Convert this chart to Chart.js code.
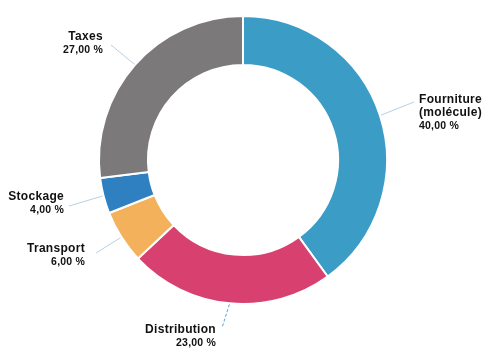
<!DOCTYPE html>
<html>
<head>
<meta charset="utf-8">
<script src="https://cdn.jsdelivr.net/npm/chart.js@4"></script>
<style>
  html, body { margin: 0; padding: 0; background: #ffffff; }
  #wrap { width: 482px; height: 349px; }
</style>
</head>
<body>
<div id="wrap"><canvas id="c" width="482" height="349"></canvas></div>
<script>
// Répartition du prix du gaz
const categories = ['Fourniture\n(molécule)', 'Distribution', 'Transport', 'Stockage', 'Taxes'];
const values = [40, 23, 6, 4, 27];
const valueLabels = ['40,00 %', '23,00 %', '6,00 %', '4,00 %', '27,00 %'];
const colors = ['#3b9cc6', '#d8416f', '#f4b15c', '#2f80c1', '#7b797a'];

// label anchor (text position), alignment and leader style per slice
const labelLayout = [
  { x: 419, y: 100, align: 'left',  end: [414, 102], dash: [] },
  { x: 216, y: 330, align: 'right', end: [222, 328], dash: [3, 2] },
  { x: 85,  y: 249, align: 'right', end: [96, 253],  dash: [] },
  { x: 64,  y: 197, align: 'right', end: [69, 206],  dash: [] },
  { x: 103, y: 37,  align: 'right', end: [111, 45],  dash: [] }
];

const calloutPlugin = {
  id: 'callouts',
  afterDatasetsDraw(chart) {
    const ctx = chart.ctx;
    const meta = chart.getDatasetMeta(0);
    meta.data.forEach((arc, i) => {
      const p = arc.getProps(['x', 'y', 'startAngle', 'endAngle', 'outerRadius'], true);
      const mid = (p.startAngle + p.endAngle) / 2;
      const sx = p.x + Math.cos(mid) * (p.outerRadius + 1);
      const sy = p.y + Math.sin(mid) * (p.outerRadius + 1);
      const L = labelLayout[i];
      ctx.save();
      ctx.beginPath();
      ctx.setLineDash(L.dash);
      ctx.strokeStyle = L.dash.length ? '#5b9fd8' : '#b6d0e4';
      ctx.lineWidth = 1;
      ctx.moveTo(sx, sy);
      ctx.lineTo(L.end[0], L.end[1]);
      ctx.stroke();
      ctx.setLineDash([]);
      ctx.fillStyle = '#111111';
      ctx.textAlign = L.align;
      ctx.textBaseline = 'middle';
      const lines = categories[i].split('\n');
      let y = L.y;
      ctx.font = 'bold 12px "Liberation Sans", Arial, sans-serif';
      ctx.letterSpacing = '0.3px';
      lines.forEach(t => { ctx.fillText(t, L.x, y); y += 13; });
      ctx.font = 'bold 10.5px "Liberation Sans", Arial, sans-serif';
      ctx.letterSpacing = '0.2px';
      ctx.fillText(valueLabels[i], L.x, y);
      ctx.restore();
    });
  }
};

new Chart(document.getElementById('c'), {
  type: 'doughnut',
  data: {
    labels: categories,
    datasets: [{
      data: values,
      backgroundColor: colors,
      borderColor: '#ffffff',
      borderWidth: 2
    }]
  },
  options: {
    responsive: false,
    animation: false,
    cutout: '66%',
    layout: { padding: { top: 15, bottom: 44, left: 4, right: 0 } },
    plugins: {
      legend: { display: false },
      tooltip: { enabled: false }
    }
  },
  plugins: [calloutPlugin]
});
</script>
</body>
</html>
